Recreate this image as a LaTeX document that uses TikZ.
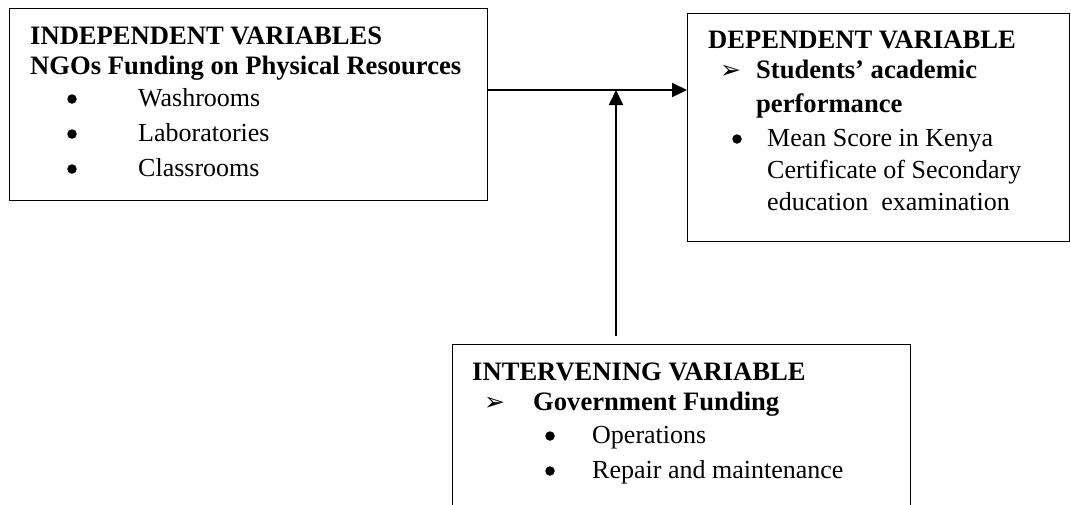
\documentclass[tikz,border=0pt]{standalone}
\usepackage{fontspec}
\setmainfont{Liberation Serif}
\newfontfamily\dvfont{DejaVu Sans}
\usetikzlibrary{arrows.meta}
\begin{document}
\begin{tikzpicture}[x=1pt,y=-1pt,
  font=\fontsize{26}{30}\selectfont,
  box/.style={draw, line width=1.3pt, inner sep=0pt, anchor=north west},
  conn/.style={line width=2pt, -{Triangle[length=15pt,width=14pt]}},
  hd/.style={anchor=base west, inner sep=0pt, font=\fontsize{26.6}{30}\selectfont\bfseries},
  tx/.style={anchor=base west, inner sep=0pt},
  dot/.style={circle, fill=black, inner sep=0pt, minimum size=9.5pt},
  arr/.style={anchor=base west, inner sep=0pt, font=\fontsize{25}{28}\selectfont\dvfont}]
\useasboundingbox (0,0) rectangle (1071,504);
% boxes
\node[box, minimum width=478pt, minimum height=192pt] (b1) at (9,8) {};
\node[box, minimum width=382pt, minimum height=228pt] (b2) at (687,13) {};
\node[box, minimum width=458pt, minimum height=175pt] (b3) at (452,344) {};
% box 1 text
\node[hd] (t1a) at (30,44) {INDEPENDENT VARIABLES};
\node[hd] (t1b) at (30,74) {NGOs Funding on Physical Resources};
\node[dot] (p1) at (72,99) {};
\node[tx]  (i1) at (138,106) {Washrooms};
\node[dot] (p2) at (72,134) {};
\node[tx]  (i2) at (138,141) {Laboratories};
\node[dot] (p3) at (72,169) {};
\node[tx]  (i3) at (138,176) {Classrooms};
% box 2 text
\node[hd] (t2a) at (708,48) {DEPENDENT VARIABLE};
\node[arr] (a2) at (720,78) {➢};
\node[hd] (t2b) at (756,78) {Students’ academic};
\node[hd] (t2c) at (756,112) {performance};
\node[dot] (p4) at (737,139) {};
\node[tx] (t2d) at (767,146) {Mean Score in Kenya};
\node[tx] (t2e) at (767,178) {Certificate of Secondary};
\node[tx] (t2f) at (767,210) {education~~examination};
% box 3 text
\node[hd] (t3a) at (472,380) {INTERVENING VARIABLE};
\node[arr] (a3) at (484,410) {➢};
\node[hd] (t3b) at (533,410) {Government Funding};
\node[dot] (p5) at (550,436) {};
\node[tx]  (i4) at (592,443) {Operations};
\node[dot] (p6) at (550,471) {};
\node[tx]  (i5) at (592,478) {Repair and maintenance};
% connectors
\coordinate (h) at (616,90);
\draw[conn] (b1.east |- h) -- (b2.west |- h);
\draw[conn] ([yshift=8pt]b3.north -| h) -- (h);
\end{tikzpicture}
\end{document}
